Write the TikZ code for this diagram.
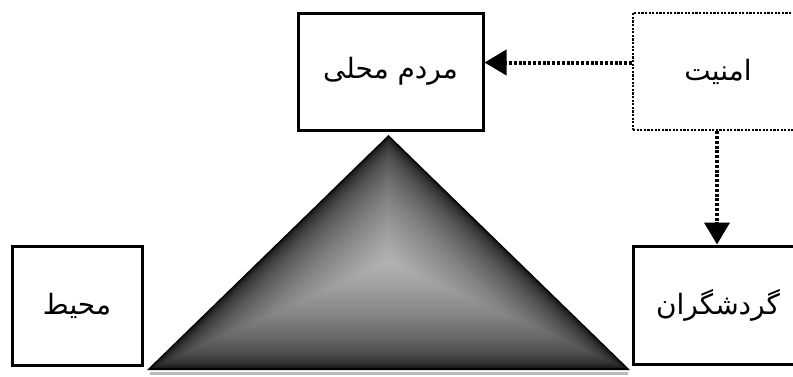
\documentclass[tikz,border=0pt]{standalone}
\usepackage{fontspec}
\newfontfamily\farsifont[Script=Arabic]{DejaVu Sans}
\TeXXeTstate=1
\usetikzlibrary{arrows.meta,calc}

\tikzset{
  boxnode/.style={draw, line width=3pt, minimum width=185pt, minimum height=117pt,
    inner sep=0pt, font=\farsifont\fontsize{28}{32}\selectfont},
  dotbox/.style={boxnode, line width=2.2pt, dash pattern=on 2.2pt off 1.4pt},
  dotarrow/.style={line width=4pt, dash pattern=on 3pt off 1.8pt,
    -{Triangle[length=22pt,width=25pt]}},
}

\begin{document}
\begin{tikzpicture}[x=1pt,y=-1pt]
  \useasboundingbox (0,0) rectangle (793,376);
  \clip (0,0) rectangle (793,376);

  % boxes
  \node[boxnode] (mardom) at (390.5,71.5) {\beginR مردم محلی\endR};
  \node[dotbox, minimum width=170pt] (amniyat) at (718,71.5) {\beginR امنیت\endR};
  \node[boxnode, minimum width=170pt, minimum height=118pt] (gardesh) at (718,305) {\beginR گردشگران\endR};
  \node[boxnode, minimum width=130pt, minimum height=119pt] (mohit) at (77,305.5) {\beginR محیط\endR};

  % shaded pyramid
  \coordinate (apex) at (388.5,135);
  \coordinate (bl) at (147,370);
  \coordinate (br) at (630,370);
  \coordinate (C) at (388.5,262);
  \draw[gray!55, line width=3pt] (150,373.5) -- (628,373.5);
  \foreach \i in {0,...,59} {
    \pgfmathsetmacro\s{1-\i/60}
    \pgfmathsetmacro\k{100-70*(\i/59)^0.45}
    \fill[black!\k] ($(C)!\s!(apex)$) -- ($(C)!\s!(bl)$) -- ($(C)!\s!(br)$) -- cycle;
  }

  % arrows
  \draw[dotarrow] ([yshift=9pt]amniyat.west) -- ([yshift=9pt]mardom.east);
  \draw[dotarrow] ([xshift=-1pt]amniyat.south) -- ([xshift=-1pt]gardesh.north);
\end{tikzpicture}
\end{document}
